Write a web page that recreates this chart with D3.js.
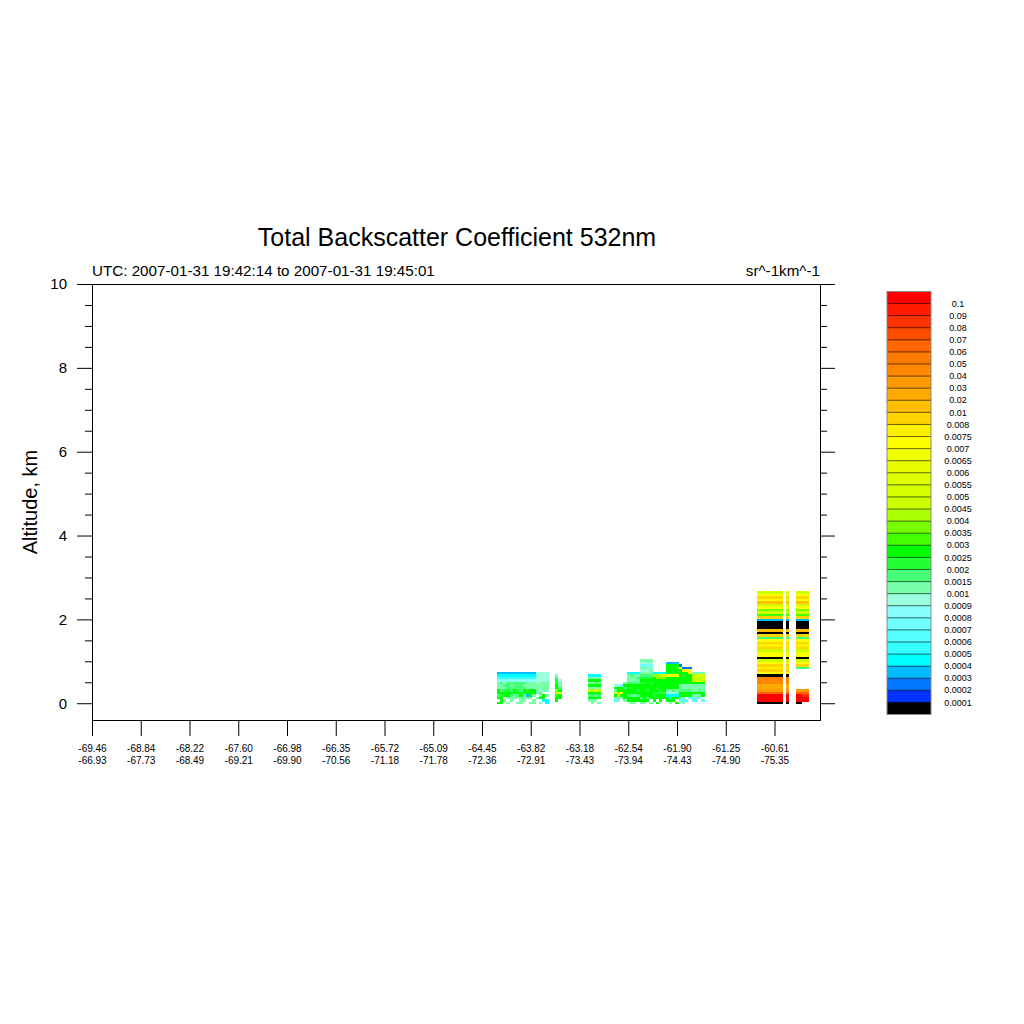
<!doctype html>
<html>
<head>
<meta charset="utf-8">
<script src="https://cdn.jsdelivr.net/npm/d3@7"></script>
<style>
  body { margin: 0; background: #fff; }
  svg { font-family: "Liberation Sans", Arial, Helvetica, sans-serif; }
</style>
</head>
<body>
<script>
// ---- texts
var titleText = "Total Backscatter Coefficient 532nm";
var timeText = "UTC: 2007-01-31 19:42:14 to 2007-01-31 19:45:01";
var unitText = "sr^-1km^-1";
var yLabelText = "Altitude, km";

// ---- x axis: profile index, labelled lat / lon every 15 profiles
var nProfiles = 224;
var xTickIndex = [0, 15, 30, 45, 60, 75, 90, 105, 120, 135, 150, 165, 180, 195, 210];
var latLabels = ["-69.46","-68.84","-68.22","-67.60","-66.98","-66.35","-65.72","-65.09",
                 "-64.45","-63.82","-63.18","-62.54","-61.90","-61.25","-60.61"];
var lonLabels = ["-66.93","-67.73","-68.49","-69.21","-69.90","-70.56","-71.18","-71.78",
                 "-72.36","-72.91","-73.43","-73.94","-74.43","-74.90","-75.35"];

// ---- y axis (km)
var yMajor = [0, 2, 4, 6, 8, 10];
var yMinor = [0.5, 1, 1.5, 2.5, 3, 3.5, 4.5, 5, 5.5, 6.5, 7, 7.5, 8.5, 9, 9.5];

// ---- contour levels (sr^-1 km^-1) and fill colours (lowest first)
var levels = [0.0001, 0.0002, 0.0003, 0.0004, 0.0005, 0.0006, 0.0007, 0.0008, 0.0009, 0.001,
              0.0015, 0.002, 0.0025, 0.003, 0.0035, 0.004, 0.0045, 0.005, 0.0055, 0.006,
              0.0065, 0.007, 0.0075, 0.008, 0.01, 0.02, 0.03, 0.04, 0.05, 0.06,
              0.07, 0.08, 0.09, 0.1];
var levelColors = ["#000000","#0033ff","#0077ff","#00bbff","#00ffff","#33ffff","#55ffff","#70ffff",
                   "#88ffff","#99ffdd","#77ffaa","#44ff77","#22ff33","#00ff00","#44ff00","#77ff00",
                   "#aaff00","#ccff00","#d4ff00","#deff00","#e8ff00","#f2ff00","#ffff00","#fff000",
                   "#ffd500","#ffbf00","#ffaa00","#ff9900","#ff8800","#ff7a00","#ff6600","#ff4d00",
                   "#ff3300","#ff1a00","#ff0000"];

// ---- backscatter curtain: one string per profile, bottom bin first.
// each char = level class (0 = below 0.0001 ... y = above 0.1), "." = no data
var altBase = -0.03;   // km, bottom of first bin
var binKm = 0.06;      // km per bin
var classKeys = "0123456789abcdefghijklmnopqrstuvwxy";
var profileIndex = [125,126,127,128,129,130,131,132,133,134,135,136,137,138,139,140,
                    143,144,
                    153,154,155,156,
                    161,162,163,164,165,166,167,168,169,170,171,172,173,174,175,176,
                    177,178,179,180,181,182,183,184,185,186,187,188,
                    205,206,207,208,209,210,211,212,214,217,218,219,220];
var profileCodes = [
  "d.dbddaaa8543","dddcdbaab8543",".a.ddcab88543","a.addcbbb8543",
  ".aabdbbab8543","..aaddbbb8543","a.abdcbbb8543","aaadcbbbb8543",
  ".aaaddbab8543","..a3dcaaa8543","a.adddaaa8543","aa.addaaa8543",
  "..a.aaaa99999","a.dab9aaa9999",".4dd.aaaa9999","44.a.aaaa9999",
  ".ddcggddccba","..ddmdbaa9",
  ".adbdhadada4","aadbdgadada4",".adbdhadbda4","a.dbdhadada4",
  ".6adgad9",".aamgdd8","..admdd8",".addddbda",
  ".ddbddddbaaa4","addbddcdbaab4","addaddddbaaa4",".ddbdcddbaba4",
  "adbdddddcdcba9a79a","adddddddcdcba9a79a",".dbddcddddcba9a79a","a.ddddddcdcbaa979a",
  ".ddccddddddg4","d.ddcdcdddfg4",".dddccddddfh4","..ddcdddddgh4",
  ".dd49adddddldddd3","ad449adddddmdddd3",".dd49bdddddlcddd3","d.d4aadddddlddcd3",
  ".66ddbaaddddddm2","a6addbaadddcdm2",".6.ddbaadddddm2","..6ddbaaddddmm2",
  ".66adaaadhhha",".6aadaaadhgha","..6adbaadhhha",".6.ddaaadhhha",
  "0yyyurqqsst0monomh0mlhonombo0p0003oehfmhplomh",
  "0yyyurqqsst0monomh0mlhonombo0p0003oehfmhplomh",
  "0yyyurqqsst0monomh0mlhonombo0p0003oehfmhplomh",
  "0yyyurqqsst0monomh0mlhonombo0p0003oehfmhplomh",
  "0yyyurqqsst0monomh0mlhonombo0p0003oehfmhplomh",
  "0yyyurqqsst0monomh0mlhonombo0p0003oehfmhplomh",
  "0yyyurqqsst0monomh0mlhonombo0p0003oehfmhplomh",
  "0yyyurqqsst0monomh0mlhonombo0p0003oehfmhplomh",
  "0yyyurqqsst0monomh0mlhonombo0p0003oehfmhplomh",
  "0yyyur........bomh0mlhonombo0p0003oehfmhplomh",
  "0yyyur........bomh0mlhonombo0p0003oehfmhplomh",
  ".yywur........bomh0mlhonombo0p0003oehfmhplomh",
  ".yywur........bomh0mlhonombo0p0003oehfmhplomh"
];

// ---- layout
var w_svg = 1024, h_svg = 1024;
var plotL = 92, plotR = 820, plotT = 284, plotB = 720;

var svg = d3.select("body").append("svg")
            .attr("width", w_svg)
            .attr("height", h_svg);

var x = d3.scaleLinear().domain([0, nProfiles]).range([plotL, plotR]);
var y = d3.scaleLinear().domain([-0.4, 10]).range([plotB, plotT]);
var color = d3.scaleThreshold().domain(levels).range(levelColors);

// decode curtain into cells
var cells = [];
profileIndex.forEach(function(p, j) {
  var s = profileCodes[j];
  for (var r = 0; r < s.length; r++) {
    var k = classKeys.indexOf(s[r]);
    if (k < 0) continue;
    cells.push({p: p, bin: r, value: k === 0 ? 0 : levels[k - 1]});
  }
});

svg.append("g").selectAll("rect")
   .data(cells)
   .enter()
   .append("rect")
   .attr("x", function(d){ return Math.round(x(d.p - 0.5)); })
   .attr("width", function(d){ return Math.round(x(d.p + 0.5)) - Math.round(x(d.p - 0.5)); })
   .attr("y", function(d){ return Math.round(y(altBase + (d.bin + 1) * binKm)); })
   .attr("height", function(d){
      return Math.round(y(altBase + d.bin * binKm)) - Math.round(y(altBase + (d.bin + 1) * binKm));
   })
   .attr("fill", function(d){ return color(d.value); });

// axes
function clean(g) {
  g.select(".domain").remove();
  g.selectAll("line").attr("stroke", "#000");
}
svg.append("g").attr("transform", "translate(" + plotL + ",0)")
   .call(d3.axisLeft(y).tickValues(yMajor).tickSize(15).tickPadding(10).tickFormat(d3.format("d")))
   .call(clean)
   .selectAll("text").attr("font-size", 15).attr("fill", "#000")
   .attr("font-family", "Liberation Sans, Arial, sans-serif");
svg.append("g").attr("transform", "translate(" + plotL + ",0)")
   .call(d3.axisLeft(y).tickValues(yMinor).tickSize(7).tickFormat(""))
   .call(clean);
svg.append("g").attr("transform", "translate(" + plotR + ",0)")
   .call(d3.axisRight(y).tickValues(yMajor).tickSize(15).tickFormat(""))
   .call(clean);
svg.append("g").attr("transform", "translate(" + plotR + ",0)")
   .call(d3.axisRight(y).tickValues(yMinor).tickSize(7).tickFormat(""))
   .call(clean);
svg.append("g").attr("transform", "translate(0," + plotB + ")")
   .call(d3.axisBottom(x).tickValues(xTickIndex).tickSize(16).tickFormat(""))
   .call(clean);

// two-line x labels (lat over lon)
var xl = svg.append("g").selectAll("text")
   .data(xTickIndex)
   .enter()
   .append("text")
   .attr("text-anchor", "middle")
   .attr("font-size", 10)
   .attr("fill", "#000");
xl.append("tspan")
  .attr("x", function(d){ return x(d) + 0.5; })
  .attr("y", plotB + 32)
  .text(function(d, i){ return latLabels[i]; });
xl.append("tspan")
  .attr("x", function(d){ return x(d) + 0.5; })
  .attr("y", plotB + 44)
  .text(function(d, i){ return lonLabels[i]; });

// frame
svg.append("rect")
   .attr("x", plotL + 0.5).attr("y", plotT + 0.5)
   .attr("width", plotR - plotL).attr("height", plotB - plotT)
   .attr("fill", "none").attr("stroke", "#000");

// titles
svg.append("text").attr("x", (plotL + plotR) / 2 + 1).attr("y", 246)
   .attr("text-anchor", "middle").attr("font-size", 25).text(titleText);
svg.append("text").attr("x", plotL).attr("y", 276)
   .attr("font-size", 15.2).text(timeText);
svg.append("text").attr("x", plotR).attr("y", 276)
   .attr("text-anchor", "end").attr("font-size", 15.2).text(unitText);
svg.append("text")
   .attr("transform", "translate(37," + (plotT + plotB) / 2 + ") rotate(-90)")
   .attr("text-anchor", "middle").attr("font-size", 20).text(yLabelText);

// label bar
var cbX = 887, cbY = 291.5, cbW = 44, cbH = 423;
var nBox = levelColors.length;
var cb = d3.scaleBand().domain(d3.range(nBox)).range([cbY, cbY + cbH]);
var cbg = svg.append("g");
cbg.selectAll("rect.box")
   .data(levelColors.slice().reverse())
   .enter()
   .append("rect")
   .attr("class", "box")
   .attr("x", cbX).attr("width", cbW)
   .attr("y", function(d, i){ return cb(i); })
   .attr("height", cb.bandwidth() + 0.5)
   .attr("fill", function(d){ return d; });
var topDown = levels.slice().reverse();
cbg.selectAll("line.sep")
   .data(topDown)
   .enter()
   .append("line")
   .attr("class", "sep")
   .attr("x1", cbX).attr("x2", cbX + cbW)
   .attr("y1", function(d, i){ return cb(i) + cb.bandwidth(); })
   .attr("y2", function(d, i){ return cb(i) + cb.bandwidth(); })
   .attr("stroke", "#000").attr("stroke-opacity", 0.6);
cbg.append("rect")
   .attr("x", cbX).attr("y", cbY).attr("width", cbW).attr("height", cbH)
   .attr("fill", "none").attr("stroke", "#888");
cbg.selectAll("text")
   .data(topDown)
   .enter()
   .append("text")
   .attr("x", 958)
   .attr("y", function(d, i){ return cb(i) + cb.bandwidth(); })
   .attr("dy", "0.35em")
   .attr("text-anchor", "middle")
   .attr("font-size", 9)
   .text(function(d){ return String(d); });
</script>
</body>
</html>
